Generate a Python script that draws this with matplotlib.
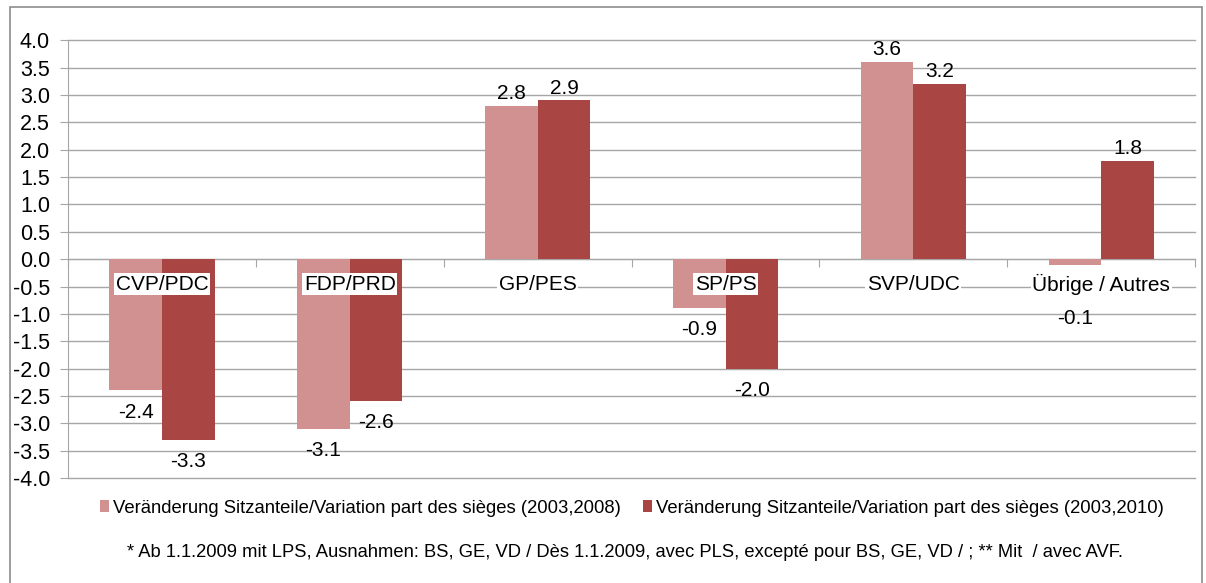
import matplotlib.pyplot as plt
import matplotlib.patches as mpatches
import numpy as np

plt.rcParams['font.family'] = ['Liberation Sans', 'DejaVu Sans']

# Data
parties = ['CVP/PDC', 'FDP/PRD', 'GP/PES', 'SP/PS', 'SVP/UDC', 'Übrige / Autres']
change_2008 = [-2.4, -3.1, 2.8, -0.9, 3.6, -0.1]
change_2010 = [-3.3, -2.6, 2.9, -2.0, 3.2, 1.8]
series_names = ['Veränderung Sitzanteile/Variation part des sièges (2003,2008)',
                'Veränderung Sitzanteile/Variation part des sièges (2003,2010)']
footnote = ('* Ab 1.1.2009 mit LPS, Ausnahmen: BS, GE, VD / Dès 1.1.2009, avec PLS, '
            'excepté pour BS, GE, VD / ; ** Mit  / avec AVF.')

col_light = '#D29191'
col_dark = '#A94543'
grid_col = '#A6A6A6'

fig = plt.figure(figsize=(12.06, 5.83), dpi=100)
ax = fig.add_axes([0.0564, 0.18, 0.9346, 0.751])

x = np.arange(len(parties))
w = 0.28
b1 = ax.bar(x - w / 2, change_2008, w, color=col_light, label=series_names[0], zorder=3)
b2 = ax.bar(x + w / 2, change_2010, w, color=col_dark, label=series_names[1], zorder=3)

ax.set_ylim(-4, 4)
ax.set_xlim(-0.5, len(parties) - 0.5)
ticks = np.arange(-4, 4.01, 0.5)
ax.set_yticks(ticks)
ax.set_yticklabels([f'{v:.1f}' for v in ticks], fontsize=15.5)
ax.yaxis.grid(True, color=grid_col, linewidth=1, zorder=0)
for gl in ax.get_ygridlines():
    gl.set_clip_on(False)
ax.set_axisbelow(True)

for s in ['top', 'right']:
    ax.spines[s].set_visible(False)
ax.spines['left'].set_color(grid_col)
ax.spines['bottom'].set_position(('data', 0))
ax.spines['bottom'].set_color(grid_col)
ax.spines['bottom'].set_zorder(2)
ax.tick_params(axis='y', colors=grid_col, labelcolor='black', length=6, pad=7)
ax.set_xticks(np.arange(len(parties) + 1) - 0.5)
ax.set_xticklabels([])
ax.tick_params(axis='x', colors=grid_col, length=6, direction='out')

# category labels sit just under the zero line, with white boxes
for i, p in enumerate(parties):
    ax.text(i, -0.46, p, ha='center', va='center', fontsize=15, zorder=5,
            bbox=dict(facecolor='white', edgecolor='none', pad=1.0))

# value labels
def label_bars(xs, vals):
    for xi, v in zip(xs, vals):
        if v >= 0:
            ax.text(xi, v + 0.05, f'{v:.1f}', ha='center', va='bottom', fontsize=15, zorder=5)
        else:
            ax.text(xi, min(v, -0.7) - 0.22, f'{v:.1f}', ha='center', va='top', fontsize=15, zorder=5)

label_bars(x - w / 2, change_2008)
label_bars(x + w / 2, change_2010)

fig.legend(handles=[b1, b2], loc='center', bbox_to_anchor=(0.524, 0.128), ncol=2,
           frameon=False, fontsize=13.3, handlelength=0.5, handleheight=0.6,
           handletextpad=0.2, columnspacing=1.2)
fig.text(0.518, 0.052, footnote, ha='center', va='center', fontsize=13.2)

# outer chart border
fig.patches.append(mpatches.Rectangle((10 / 1206, -0.01), 1192 / 1206, 1 - 7 / 583 + 0.01,
                                      transform=fig.transFigure, fill=False,
                                      edgecolor='#8C8C8C', linewidth=1.2))

fig.savefig('out.png', dpi=100)
